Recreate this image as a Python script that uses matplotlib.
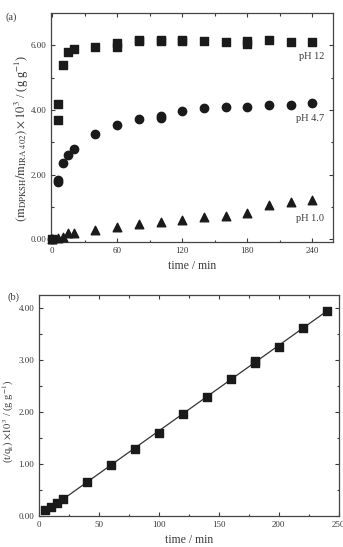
import numpy as np
import matplotlib
matplotlib.use("Agg")
import matplotlib.pyplot as plt

plt.rcParams['font.family'] = ['Liberation Serif', 'DejaVu Serif']
plt.rcParams['mathtext.fontset'] = 'stix'

# Panel (a) data
t_a = [0, 5, 5, 10, 15, 20, 40, 60, 60, 80, 80, 100, 100, 120, 120, 140, 160, 180, 180, 200, 220, 240]
q_ph12 = [0.0, 4.18, 3.70, 5.40, 5.80, 5.90, 5.95, 6.07, 5.95, 6.12, 6.18, 6.12, 6.18, 6.12, 6.18, 6.13, 6.10, 6.14, 6.04, 6.15, 6.10, 6.10]

t_b47 = [0, 5, 5, 10, 15, 20, 40, 60, 80, 100, 100, 120, 140, 160, 180, 200, 220, 240]
q_ph47 = [0.0, 1.85, 1.76, 2.36, 2.61, 2.80, 3.27, 3.54, 3.72, 3.75, 3.82, 3.96, 4.05, 4.08, 4.08, 4.16, 4.17, 4.22]

t_c = [0, 5, 10, 15, 20, 40, 60, 80, 100, 120, 140, 160, 180, 200, 220, 240]
q_ph10 = [0.0, 0.03, 0.08, 0.19, 0.21, 0.29, 0.38, 0.47, 0.55, 0.59, 0.70, 0.72, 0.83, 1.07, 1.17, 1.22]

# Panel (b) data
t_lin = [5, 10, 15, 20, 40, 60, 80, 100, 120, 140, 160, 180, 180, 200, 220, 240]
tq = [0.115, 0.17, 0.24, 0.32, 0.66, 0.97, 1.28, 1.60, 1.95, 2.29, 2.62, 2.94, 2.98, 3.25, 3.61, 3.94]

W, H = 343, 547
fig = plt.figure(figsize=(W/100, H/100), dpi=100)

def box(l, t, r, b):
    return [l/W, 1 - b/H, (r-l)/W, (b-t)/H]

col = '#1a1a1a'
tcol = '#3a3a3a'
tick_fs = 6.5

def style(ax):
    ax.tick_params(which='both', direction='in', top=True, right=True, labelsize=tick_fs, colors=tcol, width=0.8)
    ax.tick_params(which='major', length=3)
    ax.tick_params(which='minor', length=1.8)
    for s in ax.spines.values():
        s.set_linewidth(0.9)
        s.set_color('#444444')

# ---- Panel (a)
ax1 = fig.add_axes(box(51, 13, 333, 242))
ax1.scatter(t_a, q_ph12, marker='s', s=30, color=col, zorder=3, clip_on=False)
ax1.scatter(t_b47, q_ph47, marker='o', s=36, color=col, zorder=3, clip_on=False)
ax1.scatter(t_c, q_ph10, marker='^', s=38, color=col, zorder=3, clip_on=False)
ax1.set_xlim(-1, 259)
ax1.set_ylim(-0.08, 7.0)
ax1.set_xticks([0, 60, 120, 180, 240])
ax1.set_xticks([30, 90, 150, 210], minor=True)
ax1.set_yticks([0, 2, 4, 6])
ax1.set_yticklabels(['0.00', '2.00', '4.00', '6.00'])
ax1.set_yticks([1, 3, 5], minor=True)
style(ax1)
ax1.set_xlabel('time / min', fontsize=8.5, color=tcol, labelpad=4)
ax1.set_ylabel(r'$(\mathrm{m_{DPKSH}/m_{IRA\ 402}})\times10^{3}$ / (g g$^{-1}$)', fontsize=9, color=tcol)
ax1.yaxis.set_label_coords(-0.072, 0.454)
ax1.text(251, 5.65, 'pH 12', ha='right', va='center', fontsize=7.5, color=tcol)
ax1.text(251, 3.73, 'pH 4.7', ha='right', va='center', fontsize=7.5, color=tcol)
ax1.text(251, 0.65, 'pH 1.0', ha='right', va='center', fontsize=7.5, color=tcol)
fig.text(6/W, 1 - 17/H, '(a)', fontsize=7.5, color=tcol, va='center')

# ---- Panel (b)
ax2 = fig.add_axes(box(39.3, 295, 338.5, 516))
coef = np.polyfit(t_lin, tq, 1)
xx = np.array([min(t_lin), max(t_lin)])
ax2.plot(xx, np.polyval(coef, xx), color='#333333', lw=0.9, zorder=2)
ax2.scatter(t_lin, tq, marker='s', s=27, color=col, zorder=3)
ax2.set_xlim(0, 250)
ax2.set_ylim(0, 4.24)
ax2.set_xticks([0, 50, 100, 150, 200, 250])
ax2.set_xticks([25, 75, 125, 175, 225], minor=True)
ax2.set_yticks([0, 1, 2, 3, 4])
ax2.set_yticklabels(['0.00', '1.00', '2.00', '3.00', '4.00'])
ax2.set_yticks([0.5, 1.5, 2.5, 3.5], minor=True)
style(ax2)
ax2.set_xlabel('time / min', fontsize=8.5, color=tcol, labelpad=4)
ax2.set_ylabel(r'(t/q$_\mathrm{t}$) $\times10^{3}$ / (g g$^{-1}$)', fontsize=7.5, color=tcol)
ax2.yaxis.set_label_coords(-0.078, 0.43)
fig.text(8/W, 1 - 297/H, '(b)', fontsize=7.5, color=tcol, va='center')

fig.savefig('out.png', dpi=100)
